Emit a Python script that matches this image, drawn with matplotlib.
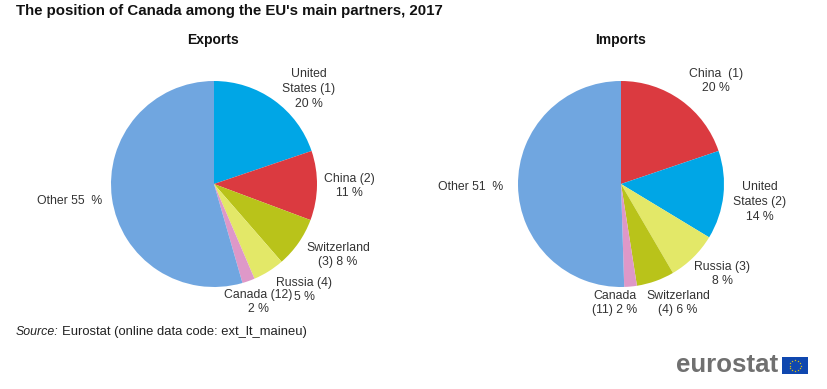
import numpy as np
import matplotlib
matplotlib.use("Agg")
import matplotlib.pyplot as plt
from matplotlib.patches import Rectangle

plt.rcParams['font.family'] = ['Liberation Sans', 'DejaVu Sans']

exp_labels = ["United\nStates (1)\n20 %", "China (2)\n11 %", "Switzerland\n(3) 8 %",
              "Russia (4)\n5 %", "Canada (12)\n2 %", "Other 55  %"]
exp_values = [20, 11, 8, 5, 2, 55]
exp_colors = ["#00A6E6", "#DB3A40", "#B9C31A", "#E3E868", "#DE98C8", "#70A6E0"]
exp_pos = [(309, 89), (349, 186), (338, 255), (304, 290), (258, 302), (70, 201)]

imp_labels = ["China  (1)\n20 %", "United\nStates (2)\n14 %", "Russia (3)\n8 %",
              "Switzerland\n(4) 6 %", "Canada\n(11) 2 %", "Other 51  %"]
imp_values = [20, 14, 8, 6, 2, 51]
imp_colors = ["#DB3A40", "#00A6E6", "#E3E868", "#B9C31A", "#DE98C8", "#70A6E0"]
imp_pos = [(716, 81), (760, 202), (722, 274), (678, 303), (615, 303), (471, 187)]

W, H = 827, 389
fig = plt.figure(figsize=(W / 100, H / 100), dpi=100)


def draw_pie(cx, cy, r, values, colors):
    ax = fig.add_axes([(cx - r) / W, 1 - (cy + r) / H, 2 * r / W, 2 * r / H])
    ax.pie(values, colors=colors, startangle=90, counterclock=False, radius=1)
    ax.set_xlim(-1, 1)
    ax.set_ylim(-1, 1)


draw_pie(214, 184, 103, exp_values, exp_colors)
draw_pie(621, 184, 103, imp_values, imp_colors)

for labels, pos in [(exp_labels, exp_pos), (imp_labels, imp_pos)]:
    for t, (x, y) in zip(labels, pos):
        fig.text(x / W, 1 - y / H, t, ha='center', va='center', fontsize=8.8,
                 linespacing=1.3, color='#333333')

fig.text(16 / W, 1 - 11 / H, "The position of Canada among the EU's main partners, 2017",
         fontsize=10.85, fontweight='bold', va='center', color='#111111')
fig.text(213 / W, 1 - 40 / H, "Exports", fontsize=10, fontweight='bold', ha='center', va='center', color='#111111')
fig.text(621 / W, 1 - 40 / H, "Imports", fontsize=10, fontweight='bold', ha='center', va='center', color='#111111')
fig.text(16 / W, 1 - 332 / H, "Source:", fontsize=8.9, style='italic', va='center', color='#222222')
fig.text(62 / W, 1 - 332 / H, "Eurostat (online data code: ext_lt_maineu)", fontsize=9.4, va='center', color='#222222')

fig.text(676 / W, 1 - 365 / H, "eurostat", fontsize=18.6, fontweight='bold', color='#707070', va='center')
fig.add_artist(Rectangle((782 / W, 1 - 374 / H), 26 / W, 17 / H, transform=fig.transFigure,
                         facecolor='#0f47af', edgecolor='none'))
ang = np.linspace(0, 2 * np.pi, 12, endpoint=False)
fig.add_artist(plt.Line2D((795 + 5.5 * np.cos(ang)) / W, 1 - (365.5 + 5.5 * np.sin(ang)) / H, ls='none',
                          marker='*', ms=1.6, mew=0, color='#f5d000', transform=fig.transFigure))

fig.savefig("out.png", dpi=100)
